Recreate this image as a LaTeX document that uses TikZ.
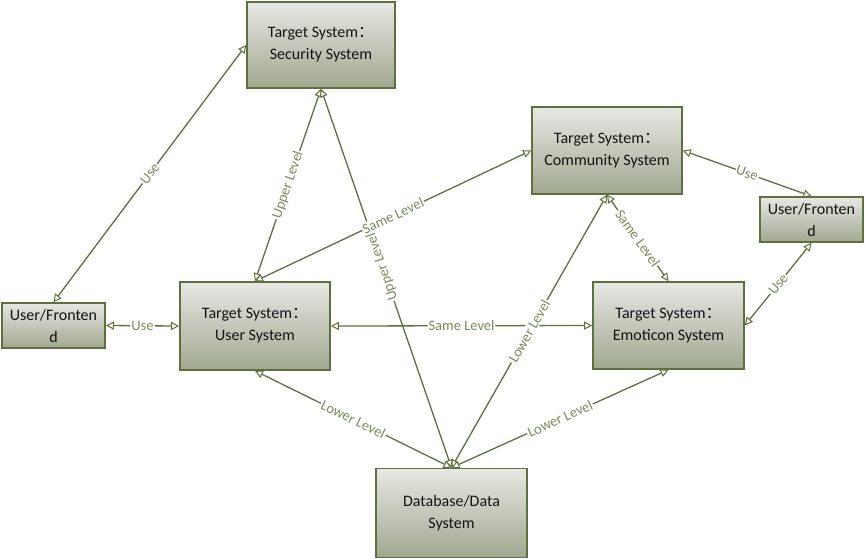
\documentclass[tikz,border=0pt]{standalone}
\usepackage{fontspec}
\setmainfont{Carlito}
\newfontfamily\cjk{Noto Sans CJK SC}
\usetikzlibrary{arrows.meta}
\definecolor{lineC}{RGB}{95,112,62}
\definecolor{boxTop}{RGB}{231,232,228}
\definecolor{boxBot}{RGB}{160,168,144}
\definecolor{labelC}{RGB}{122,140,92}
\definecolor{txtC}{RGB}{20,20,20}
\tikzset{
  wt/.tip={Triangle[length=8pt,width=8pt,fill=white,line width=1pt]},
  sysbox/.style={draw=lineC, line width=1.6pt, top color=boxTop, bottom color=boxBot,
    inner sep=0pt, align=center, text=txtC, font=\fontsize{16}{22}\selectfont},
  link/.style={draw=lineC, line width=1.3pt, {wt}-{wt}},
  lbl/.style={fill=white, text=labelC, font=\fontsize{14.5}{15}\selectfont, inner sep=1pt, sloped, pos=0.5}
}
\newcommand{\tcolon}{{\cjk ：}}
\begin{document}
\begin{tikzpicture}[x=1pt,y=-1pt]
\useasboundingbox (0,0) rectangle (865,558);
% nodes
\node[sysbox, minimum width=148pt, minimum height=86pt] (sec) at (321,45) {Target System\tcolon\\Security System};
\node[sysbox, minimum width=103pt, minimum height=45pt] (fl) at (53.5,325.5) {User/Fronten\\d};
\node[sysbox, minimum width=150pt, minimum height=88pt] (usr) at (255,326) {Target System\tcolon\\User System};
\node[sysbox, minimum width=150pt, minimum height=87pt] (com) at (607,150.5) {Target System\tcolon\\Community System};
\node[sysbox, minimum width=103pt, minimum height=45pt] (fr) at (811.5,219.5) {User/Fronten\\d};
\node[sysbox, minimum width=151pt, minimum height=87pt] (emo) at (668.5,325.5) {Target System\tcolon\\Emoticon System};
\node[sysbox, minimum width=151pt, minimum height=89pt] (db) at (451.5,513) {Database/Data\\System};
% connectors
\draw[link] (fl.north) -- node[lbl]{Use} (sec.west);
\draw[link] (fl.east) -- node[lbl]{Use} (usr.west);
\draw[link] (usr.north) -- node[lbl]{Upper Level} (sec.south);
\draw[link] (db.north) -- node[lbl, allow upside down, pos=0.53]{Upper Level} (sec.south);
\draw[link] (usr.north) -- node[lbl]{Same Level} (com.west);
\draw[link] (usr.east) -- node[lbl]{Same Level} (emo.west);
\draw[link] (com.south) -- node[lbl]{Same Level} (emo.north);
\draw[link] (com.east) -- node[lbl]{Use} (fr.north);
\draw[link] (fr.south) -- node[lbl]{Use} (emo.east);
\draw[link] (db.north) -- node[lbl]{Lower Level} (usr.south);
\draw[link] (db.north) -- node[lbl]{Lower Level} (com.south);
\draw[link] (db.north) -- node[lbl]{Lower Level} (emo.south);
\end{tikzpicture}
\end{document}
